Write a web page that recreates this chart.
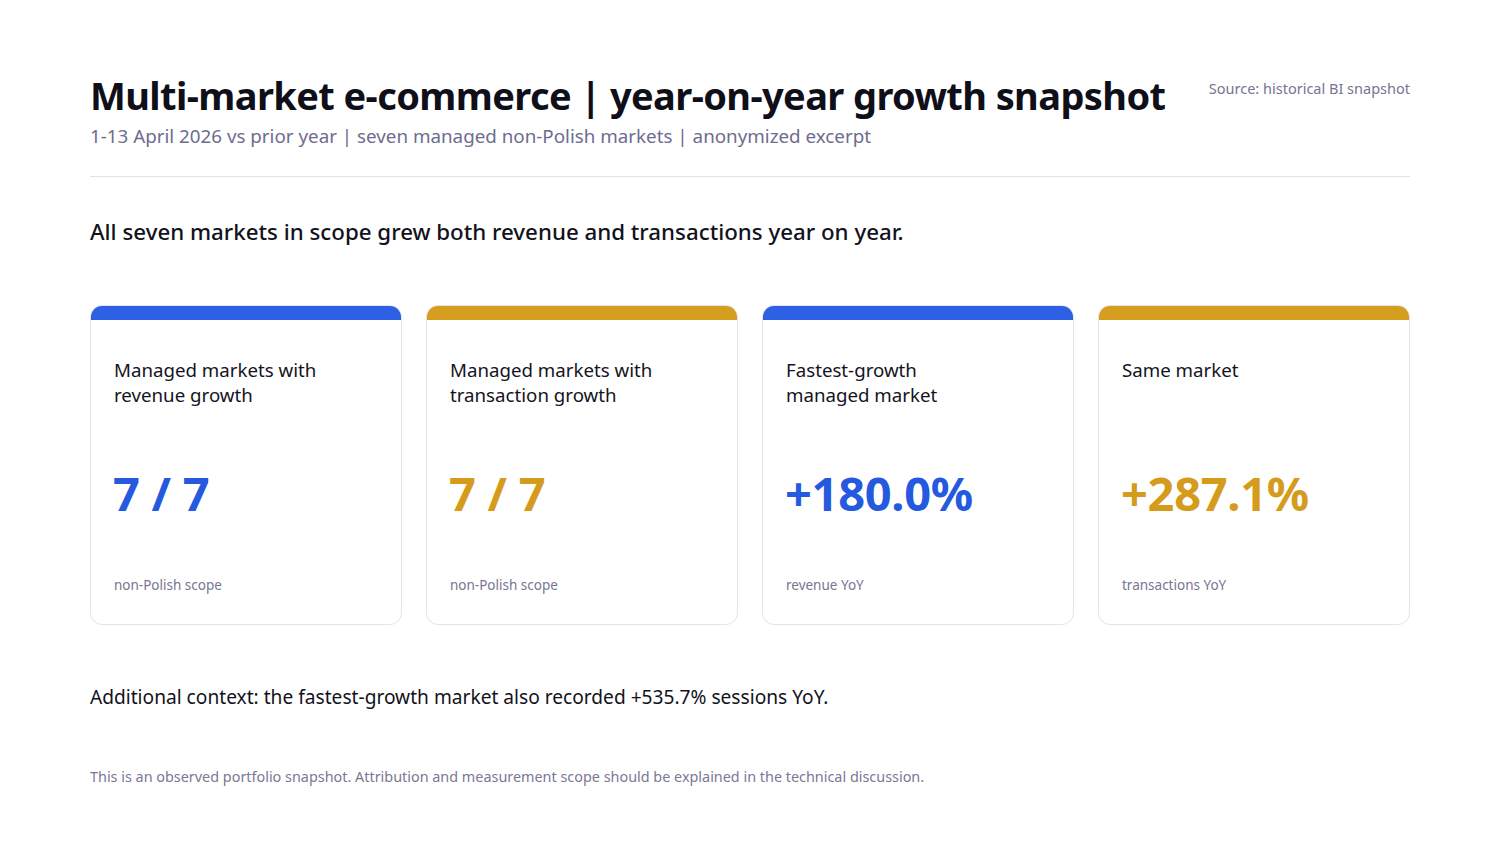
<!DOCTYPE html>
<html>
<head>
<meta charset="utf-8">
<script src="https://cdn.jsdelivr.net/npm/chart.js@4.4.1/dist/chart.umd.min.js"></script>
<style>
  html, body { margin: 0; padding: 0; background: #fff; }
  body { width: 1500px; height: 844px; position: relative; font-family: "Noto Sans", "Open Sans", sans-serif; color: #12121c; overflow: hidden; }
  #title { position: absolute; left: 90px; top: 69px; font-size: 38px; font-weight: 700; letter-spacing: -0.6px; white-space: nowrap; color: #0f0f1a; }
  #subtitle { position: absolute; left: 90px; top: 123px; font-size: 18.8px; color: #6e6c8e; white-space: nowrap; }
  #source { position: absolute; right: 90px; top: 78px; font-size: 14.5px; color: #767590; white-space: nowrap; }
  #rule { position: absolute; left: 90px; width: 1320px; top: 176px; height: 1px; background: #e2e2e8; }
  #headline { position: absolute; left: 90px; top: 216px; font-size: 22.3px; font-weight: 500; color: #12121c; white-space: nowrap; }
  #cards { position: absolute; left: 90px; top: 305px; width: 1320px; height: 320px; display: flex; gap: 24px; }
  .card { position: relative; flex: 1; border: 1px solid #e3e3ea; border-radius: 12px; box-sizing: border-box; overflow: hidden; background: #fff; }
  .card .bar { position: absolute; left: 0; right: 0; top: 0; height: 14px; }
  .card .label { position: absolute; left: 23px; top: 51px; width: 210px; font-size: 18.7px; line-height: 25px; color: #14141e; }
  .card .value { position: absolute; left: 22px; top: 155px; font-size: 47px; font-weight: 700; letter-spacing: -0.3px; white-space: nowrap; }
  .card .note { position: absolute; left: 23px; top: 270px; font-size: 13.5px; color: #787690; white-space: nowrap; }
  #context { position: absolute; left: 90px; top: 684px; font-size: 19.15px; color: #12121c; white-space: nowrap; }
  #footer { position: absolute; left: 90px; top: 767px; font-size: 14.4px; color: #7a7894; white-space: nowrap; }
</style>
</head>
<body>
<div id="title"></div>
<div id="subtitle"></div>
<div id="source"></div>
<div id="rule"></div>
<div id="headline"></div>
<div id="cards"></div>
<div id="context"></div>
<div id="footer"></div>
<script>
// text
const titleText = 'Multi-market e-commerce | year-on-year growth snapshot';
const subtitleText = '1-13 April 2026 vs prior year | seven managed non-Polish markets | anonymized excerpt';
const sourceText = 'Source: historical BI snapshot';
const headlineText = 'All seven markets in scope grew both revenue and transactions year on year.';
const contextText = 'Additional context: the fastest-growth market also recorded +535.7% sessions YoY.';
const footerText = 'This is an observed portfolio snapshot. Attribution and measurement scope should be explained in the technical discussion.';

// kpi cards
const cardLabels = ['Managed markets with revenue growth', 'Managed markets with transaction growth', 'Fastest-growth managed market', 'Same market'];
const cardValues = ['7 / 7', '7 / 7', '+180.0%', '+287.1%'];
const cardNotes = ['non-Polish scope', 'non-Polish scope', 'revenue YoY', 'transactions YoY'];
const cardColors = ['#2d60e4', '#d69e1e', '#2d60e4', '#d69e1e'];
const valueColors = ['#2459e0', '#d59b1c', '#2459e0', '#d59b1c'];

function el(tag, cls, txt) {
  let e = document.createElement(tag);
  if (cls) e.className = cls;
  if (txt) e.textContent = txt;
  return e;
}

document.getElementById('title').textContent = titleText;
document.getElementById('subtitle').textContent = subtitleText;
document.getElementById('source').textContent = sourceText;
document.getElementById('headline').textContent = headlineText;
document.getElementById('context').textContent = contextText;
document.getElementById('footer').textContent = footerText;

let cards = document.getElementById('cards');
cardLabels.map((label, i) => {
  let card = el('div', 'card');
  let bar = el('div', 'bar');
  bar.style.background = cardColors[i];
  card.appendChild(bar);
  card.appendChild(el('div', 'label', label));
  let v = el('div', 'value', cardValues[i]);
  v.style.color = valueColors[i];
  card.appendChild(v);
  card.appendChild(el('div', 'note', cardNotes[i]));
  cards.appendChild(card);
});
</script>
</body>
</html>
